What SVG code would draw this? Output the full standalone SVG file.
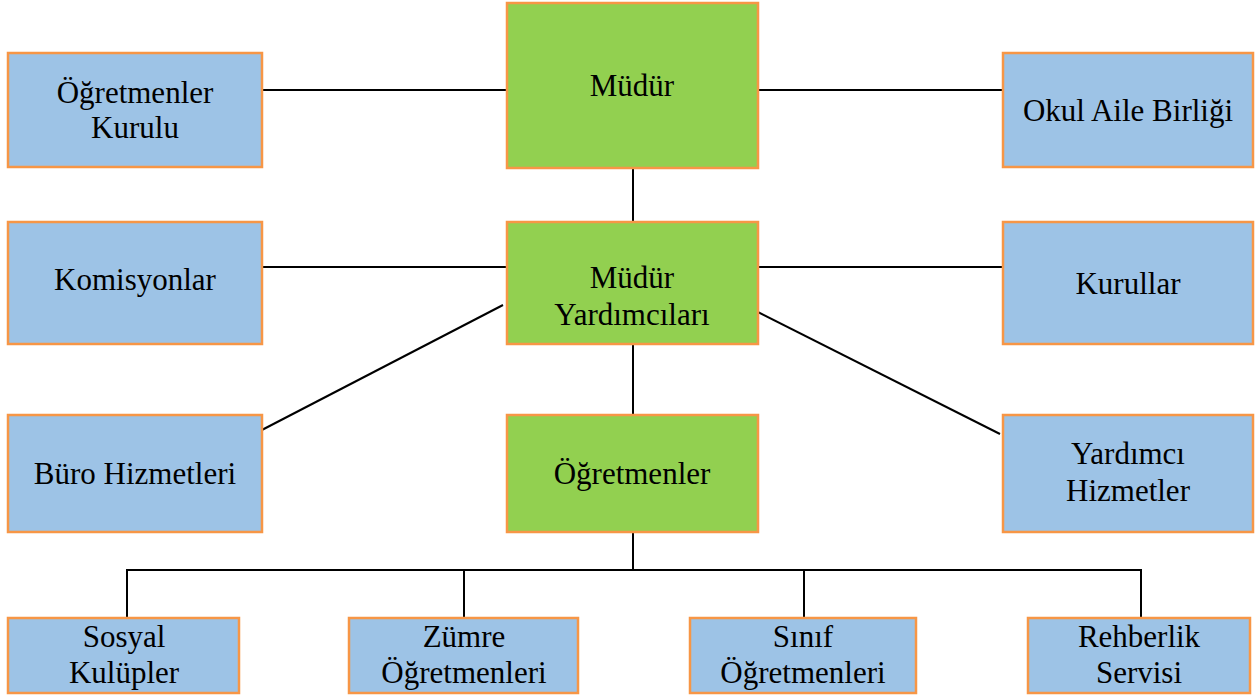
<svg xmlns="http://www.w3.org/2000/svg" width="1257" height="697" viewBox="0 0 1257 697">
<style>
.b{fill:#9DC3E6;stroke:#F79646;stroke-width:2.5}
.g{fill:#92D050;stroke:#F79646;stroke-width:2.5}
text{font-family:'Liberation Serif','Times New Roman','DejaVu Serif',serif;font-size:31px;fill:#000;text-anchor:middle}
#connectors line,#connectors path{stroke:#000;stroke-width:2;fill:none}
</style>
<rect width="1257" height="697" fill="#fff"/>
<g id="connectors">
<line x1="262" y1="90" x2="507" y2="90"/>
<line x1="758" y1="90" x2="1003" y2="90"/>
<line x1="633" y1="168" x2="633" y2="222"/>
<line x1="262" y1="267" x2="507" y2="267"/>
<line x1="758" y1="267" x2="1003" y2="267"/>
<line x1="503" y1="305" x2="258" y2="432"/>
<line x1="750" y1="308" x2="1000" y2="434"/>
<line x1="633" y1="344" x2="633" y2="415"/>
<line x1="633" y1="532" x2="633" y2="570"/>
<path d="M127,618 V570 H1141 V618"/>
<line x1="464" y1="570" x2="464" y2="618"/>
<line x1="804" y1="570" x2="804" y2="618"/>
</g>
<g id="ogretmenler-kurulu"><rect class="b" x="8" y="53" width="254" height="114"/><text x="135" y="103">Öğretmenler</text><text x="135" y="138">Kurulu</text></g>
<g id="mudur"><rect class="g" x="507" y="3" width="251" height="165"/><text x="632" y="96">Müdür</text></g>
<g id="okul-aile-birligi"><rect class="b" x="1003" y="53" width="250" height="114"/><text x="1128" y="121">Okul Aile Birliği</text></g>
<g id="komisyonlar"><rect class="b" x="8" y="222" width="254" height="122"/><text x="135" y="290">Komisyonlar</text></g>
<g id="mudur-yardimcilari"><rect class="g" x="507" y="222" width="251" height="122"/><text x="632" y="288">Müdür</text><text x="632" y="325">Yardımcıları</text></g>
<g id="kurullar"><rect class="b" x="1003" y="222" width="250" height="122"/><text x="1128" y="294">Kurullar</text></g>
<g id="buro-hizmetleri"><rect class="b" x="8" y="415" width="254" height="117"/><text x="135" y="484">Büro Hizmetleri</text></g>
<g id="ogretmenler"><rect class="g" x="507" y="415" width="251" height="117"/><text x="632" y="484">Öğretmenler</text></g>
<g id="yardimci-hizmetler"><rect class="b" x="1003" y="415" width="250" height="117"/><text x="1128" y="464">Yardımcı</text><text x="1128" y="501">Hizmetler</text></g>
<g id="sosyal-kulupler"><rect class="b" x="8" y="618" width="231" height="75"/><text x="124" y="647">Sosyal</text><text x="124" y="683">Kulüpler</text></g>
<g id="zumre-ogretmenleri"><rect class="b" x="349" y="618" width="229" height="75"/><text x="464" y="647">Zümre</text><text x="464" y="683">Öğretmenleri</text></g>
<g id="sinif-ogretmenleri"><rect class="b" x="690" y="618" width="226" height="75"/><text x="803" y="647">Sınıf</text><text x="803" y="683">Öğretmenleri</text></g>
<g id="rehberlik-servisi"><rect class="b" x="1028" y="618" width="222" height="75"/><text x="1139" y="647">Rehberlik</text><text x="1139" y="683">Servisi</text></g>
</svg>
